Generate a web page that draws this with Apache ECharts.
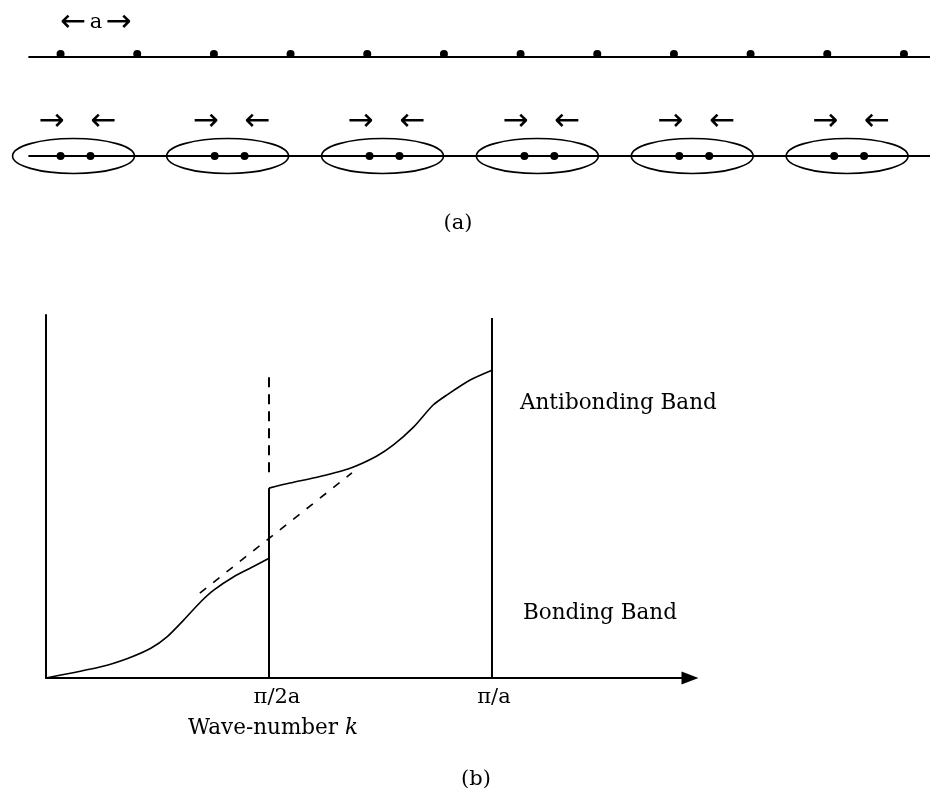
<!DOCTYPE html>
<html>
<head>
<meta charset="utf-8">
<script src="https://cdn.jsdelivr.net/npm/echarts@6/dist/echarts.min.js"></script>
<style>
  html, body { margin: 0; padding: 0; background: #fff; }
  #chart { width: 930px; height: 790px; }
</style>
</head>
<body>
<div id="chart"></div>
<script>
// ---- (a) one-dimensional chain, positions in units of the lattice constant a ----
const uniformSites = [0, 1, 2, 3, 4, 5, 6, 7, 8, 9, 10, 11];
// dimerised chain: neighbouring atoms pulled together in pairs
const dimerSites = [0, 0.39, 2.01, 2.40, 4.03, 4.42, 6.05, 6.44, 8.07, 8.46, 10.09, 10.48];
const chainSpan = [-0.42, 11.36];
const rowUniform = 1;
const rowDimer = 0;

// ---- (b) band structure E(k), k in units of pi/a, E in arbitrary units ----
const lowerBandK = [0, 0.123, 0.183, 0.235, 0.272, 0.309, 0.347, 0.376, 0.421, 0.465, 0.5];
const lowerBandE = [0, 0.031, 0.054, 0.082, 0.114, 0.160, 0.210, 0.242, 0.279, 0.307, 0.330];
const upperBandK = [0.5, 0.547, 0.614, 0.682, 0.741, 0.779, 0.824, 0.868, 0.898, 0.951, 1.0];
const upperBandE = [0.523, 0.537, 0.555, 0.578, 0.611, 0.642, 0.691, 0.752, 0.779, 0.821, 0.848];
const freeBandK = [0.345, 0.686];
const freeBandE = [0.234, 0.565];
const halfZoneK = 0.5;
const zoneEdgeK = 1;
const halfZoneSolidTop = 0.523;
const halfZoneDashed = [0.567, 0.848];
const zoneEdgeTop = 0.992;
const kTickValues = [0.5, 1];
const kTickLabels = ['π/2a', 'π/a'];

const zip = (xs, ys) => xs.map((x, i) => [x, ys[i]]);
const serif = 'DejaVu Serif';
const ink = '#000';

// pair midpoints of the dimerised chain
const pairs = [];
for (let i = 0; i < dimerSites.length; i += 2) {
  pairs.push([(dimerSites[i] + dimerSites[i + 1]) / 2, rowDimer]);
}
const leftAtoms = dimerSites.filter((_, i) => i % 2 === 0).map(x => [x, rowDimer]);
const rightAtoms = dimerSites.filter((_, i) => i % 2 === 1).map(x => [x, rowDimer]);

const chart = echarts.init(document.getElementById('chart'), null, { renderer: 'canvas' });

const hiddenAxis = {
  show: false, axisLine: { show: false }, axisTick: { show: false },
  axisLabel: { show: false }, splitLine: { show: false }
};
const solidInk = { color: ink, opacity: 1 };

chart.setOption({
  animation: false,
  backgroundColor: '#fff',
  grid: [
    { left: 0, right: 0, top: 57, height: 99 },
    { left: 46, right: 240, top: 315, bottom: 112 }
  ],
  xAxis: [
    Object.assign({ type: 'value', gridIndex: 0, min: -0.79, max: 11.34 }, hiddenAxis),
    {
      type: 'value', gridIndex: 1, min: 0, max: 1.444, interval: 0.5,
      axisLine: {
        show: true, symbol: ['none', 'triangle'], symbolSize: [13, 17],
        lineStyle: { color: ink, width: 2 }
      },
      axisTick: { show: false },
      splitLine: { show: false },
      axisLabel: {
        show: true, margin: 9, showMaxLabel: false,
        color: ink, fontFamily: serif, fontSize: 21,
        formatter: v => {
          const i = kTickValues.findIndex(t => Math.abs(t - v) < 1e-6);
          if (i < 0) return '';
          return (i === 0 ? '{h|' : '{e|') + kTickLabels[i] + '}';
        },
        rich: {
          h: { fontFamily: serif, fontSize: 21, color: ink, padding: [0, 0, 0, 16] },
          e: { fontFamily: serif, fontSize: 21, color: ink, padding: [0, 0, 0, 4] }
        }
      }
    }
  ],
  yAxis: [
    Object.assign({ type: 'value', gridIndex: 0, min: 0, max: 1 }, hiddenAxis),
    {
      type: 'value', gridIndex: 1, min: 0, max: 1,
      axisLine: { show: true, lineStyle: { color: ink, width: 2 } },
      axisTick: { show: false }, axisLabel: { show: false }, splitLine: { show: false }
    }
  ],
  series: [
    // chain backbones
    {
      type: 'line', xAxisIndex: 0, yAxisIndex: 0, symbol: 'none', silent: true,
      lineStyle: { color: ink, width: 2 },
      data: chainSpan.map(x => [x, rowUniform])
    },
    {
      type: 'line', xAxisIndex: 0, yAxisIndex: 0, symbol: 'none', silent: true,
      lineStyle: { color: ink, width: 2 },
      data: chainSpan.map(x => [x, rowDimer])
    },
    // uniform chain atoms
    {
      type: 'scatter', xAxisIndex: 0, yAxisIndex: 0, symbol: 'circle', symbolSize: 8,
      symbolOffset: [0, -3], itemStyle: solidInk,
      data: uniformSites.map(x => [x, rowUniform])
    },
    // lattice constant marker between the first two sites
    {
      type: 'scatter', xAxisIndex: 0, yAxisIndex: 0, symbolSize: 0, itemStyle: solidInk,
      data: [[(uniformSites[0] + uniformSites[1]) / 2, rowUniform]],
      label: {
        show: true, position: 'inside', offset: [-3, -34],
        formatter: '{arr|←} {t|a} {arr|→}',
        rich: {
          arr: { fontFamily: 'DejaVu Sans', fontSize: 31, color: ink },
          t: { fontFamily: serif, fontSize: 21, color: ink }
        }
      }
    },
    // dimer atoms
    {
      type: 'scatter', xAxisIndex: 0, yAxisIndex: 0, symbol: 'circle', symbolSize: 8,
      itemStyle: solidInk,
      data: dimerSites.map(x => [x, rowDimer])
    },
    // displacement arrows above each pair
    {
      type: 'scatter', xAxisIndex: 0, yAxisIndex: 0, symbolSize: 0, itemStyle: solidInk,
      data: leftAtoms,
      label: {
        show: true, position: 'inside', offset: [-9, -34], formatter: '→',
        fontFamily: 'DejaVu Sans', fontSize: 31, color: ink
      }
    },
    {
      type: 'scatter', xAxisIndex: 0, yAxisIndex: 0, symbolSize: 0, itemStyle: solidInk,
      data: rightAtoms,
      label: {
        show: true, position: 'inside', offset: [13, -34], formatter: '←',
        fontFamily: 'DejaVu Sans', fontSize: 31, color: ink
      }
    },
    // ellipses enclosing each bonded pair
    {
      type: 'custom', xAxisIndex: 0, yAxisIndex: 0, silent: true,
      data: pairs,
      renderItem: (params, api) => {
        const c = api.coord([api.value(0), api.value(1)]);
        const s = api.size([0.795, 0.177]);
        return {
          type: 'ellipse',
          shape: { cx: c[0] - 2, cy: c[1], rx: s[0], ry: s[1] },
          style: { fill: 'none', stroke: ink, lineWidth: 1.6 }
        };
      }
    },

    // ---- band diagram ----
    {
      type: 'line', xAxisIndex: 1, yAxisIndex: 1, symbol: 'none', smooth: 0.25,
      lineStyle: { color: ink, width: 1.6 },
      data: zip(lowerBandK, lowerBandE)
    },
    {
      type: 'line', xAxisIndex: 1, yAxisIndex: 1, symbol: 'none', smooth: 0.25,
      lineStyle: { color: ink, width: 1.6 },
      data: zip(upperBandK, upperBandE)
    },
    {
      type: 'line', xAxisIndex: 1, yAxisIndex: 1, symbol: 'none',
      lineStyle: { color: ink, width: 1.6, type: [8, 9] },
      data: zip(freeBandK, freeBandE)
    },
    {
      type: 'line', xAxisIndex: 1, yAxisIndex: 1, symbol: 'none',
      lineStyle: { color: ink, width: 2 },
      data: [[halfZoneK, 0], [halfZoneK, halfZoneSolidTop]]
    },
    {
      type: 'line', xAxisIndex: 1, yAxisIndex: 1, symbol: 'none',
      lineStyle: { color: ink, width: 2, type: [10, 7] },
      data: halfZoneDashed.map(e => [halfZoneK, e])
    },
    {
      type: 'line', xAxisIndex: 1, yAxisIndex: 1, symbol: 'none',
      lineStyle: { color: ink, width: 2 },
      data: [[zoneEdgeK, 0], [zoneEdgeK, zoneEdgeTop]]
    }
  ],
  graphic: [
    {
      type: 'text', x: 458, y: 224,
      style: { text: '(a)', fontFamily: serif, fontSize: 21, fill: ink, align: 'center', verticalAlign: 'middle' }
    },
    {
      type: 'text', x: 520, y: 403,
      style: { text: 'Antibonding Band', fontFamily: serif, fontSize: 21.5, fill: ink, align: 'left', verticalAlign: 'middle' }
    },
    {
      type: 'text', x: 523, y: 613,
      style: { text: 'Bonding Band', fontFamily: serif, fontSize: 21.5, fill: ink, align: 'left', verticalAlign: 'middle' }
    },
    {
      type: 'text', x: 273, y: 728,
      style: {
        text: '{t|Wave-number }{k|k}', align: 'center', verticalAlign: 'middle',
        rich: {
          t: { fontFamily: serif, fontSize: 21.5, fill: ink, color: ink },
          k: { fontFamily: serif, fontSize: 21.5, fontStyle: 'italic', fill: ink, color: ink }
        }
      }
    },
    {
      type: 'text', x: 476, y: 780,
      style: { text: '(b)', fontFamily: serif, fontSize: 21, fill: ink, align: 'center', verticalAlign: 'middle' }
    }
  ]
});
</script>
</body>
</html>
